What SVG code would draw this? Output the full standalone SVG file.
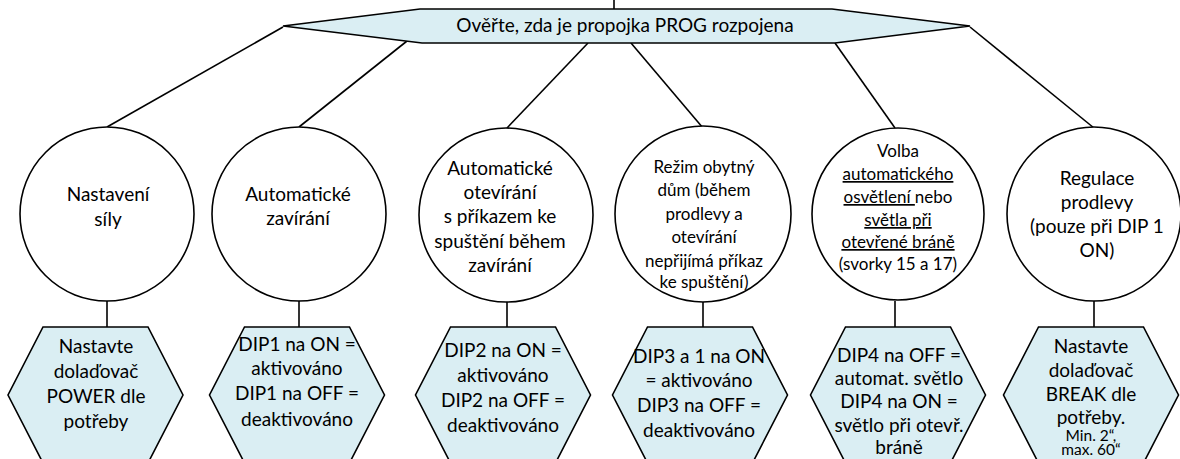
<svg xmlns="http://www.w3.org/2000/svg" width="1180" height="459" viewBox="0 0 1180 459">
<style>
.hex{fill:#DAEEF3;stroke:#000;stroke-width:1.6}
.cir{fill:#fff;stroke:#000;stroke-width:1.6}
.ln{stroke:#000;stroke-width:1.6;fill:none}
text{font-family:Lato,"Open Sans",sans-serif;font-size:19px;fill:#000;text-anchor:middle}
.s{font-size:17px}
.t{font-size:15.5px}
.u{text-decoration:underline}
</style>
<rect width="1180" height="459" fill="#fff"/>
<g id="connectors">
<line class="ln" x1="614" y1="0" x2="614" y2="9"/>
<line class="ln" x1="283" y1="27" x2="107" y2="127"/>
<line class="ln" x1="407" y1="41" x2="299" y2="127"/>
<line class="ln" x1="588" y1="43" x2="507" y2="128"/>
<line class="ln" x1="631" y1="43" x2="703" y2="128"/>
<line class="ln" x1="835" y1="43" x2="895" y2="128"/>
<line class="ln" x1="970" y1="27" x2="1094" y2="128"/>
<line class="ln" x1="107" y1="301" x2="107" y2="327"/>
<line class="ln" x1="299" y1="301" x2="299" y2="327"/>
<line class="ln" x1="507" y1="302" x2="507" y2="327"/>
<line class="ln" x1="703" y1="301" x2="703" y2="327"/>
<line class="ln" x1="895" y1="301" x2="895" y2="327"/>
<line class="ln" x1="1094" y1="301" x2="1094" y2="327"/>
</g>
<g id="top">
<polygon class="hex" points="283,26 420,9 832,9 970,26 835,43 422,43"/>
<text x="625" y="32">Ověřte, zda je propojka PROG rozpojena</text>
</g>
<g id="c1">
<circle class="cir" cx="107" cy="214" r="87"/>
<text x="108"><tspan x="108" y="201">Nastavení</tspan><tspan x="108" y="226">síly</tspan></text>
</g>
<g id="c2">
<circle class="cir" cx="299" cy="214" r="87"/>
<text x="298"><tspan x="298" y="201">Automatické</tspan><tspan x="298" y="225">zavírání</tspan></text>
</g>
<g id="c3">
<circle class="cir" cx="506" cy="215" r="87"/>
<text x="500"><tspan x="500" y="175">Automatické</tspan><tspan x="500" y="199">otevírání</tspan><tspan x="500" y="223">s příkazem ke</tspan><tspan x="500" y="248">spuštění během</tspan><tspan x="500" y="272">zavírání</tspan></text>
</g>
<g id="c4">
<circle class="cir" cx="703" cy="214" r="88"/>
<text class="s" x="704"><tspan x="704" y="173">Režim obytný</tspan><tspan x="704" y="196">dům (během</tspan><tspan x="704" y="220">prodlevy a</tspan><tspan x="704" y="243">otevírání</tspan><tspan x="704" y="267">nepřijímá příkaz</tspan><tspan x="704" y="288">ke spuštění)</tspan></text>
</g>
<g id="c5">
<circle class="cir" cx="898" cy="214" r="86"/>
<text class="s" x="898"><tspan x="898" y="157">Volba</tspan><tspan class="u" x="898" y="180">automatického</tspan><tspan x="898" y="203"><tspan class="u">osvětlení </tspan>nebo</tspan><tspan class="u" x="898" y="226">světla při</tspan><tspan class="u" x="898" y="248">otevřené bráně</tspan><tspan x="898" y="270">(svorky 15 a 17)</tspan></text>
</g>
<g id="c6">
<circle class="cir" cx="1094" cy="214" r="87"/>
<text x="1097"><tspan x="1097" y="185">Regulace</tspan><tspan x="1097" y="209">prodlevy</tspan><tspan x="1097" y="233">(pouze při DIP 1</tspan><tspan x="1097" y="257">ON)</tspan></text>
</g>
<g id="h1">
<polygon class="hex" points="43,327 148,327 183,395 148,463 43,463 8,395"/>
<text x="96"><tspan x="96" y="353">Nastavte</tspan><tspan x="96" y="378">dolaďovač</tspan><tspan x="96" y="403">POWER dle</tspan><tspan x="96" y="428">potřeby</tspan></text>
</g>
<g id="h2">
<polygon class="hex" points="244.5,327 349.5,327 384.5,395 349.5,463 244.5,463 209.5,395"/>
<text x="297"><tspan x="297" y="351">DIP1 na ON =</tspan><tspan x="297" y="375">aktivováno</tspan><tspan x="297" y="400">DIP1 na OFF =</tspan><tspan x="297" y="426">deaktivováno</tspan></text>
</g>
<g id="h3">
<polygon class="hex" points="450.5,327 555.5,327 590.5,395 555.5,463 450.5,463 415.5,395"/>
<text x="503"><tspan x="503" y="357">DIP2 na ON =</tspan><tspan x="503" y="382">aktivováno</tspan><tspan x="503" y="407">DIP2 na OFF =</tspan><tspan x="503" y="432">deaktivováno</tspan></text>
</g>
<g id="h4">
<polygon class="hex" points="647.5,327 752.5,327 787.5,395 752.5,463 647.5,463 612.5,395"/>
<text x="699"><tspan x="699" y="363">DIP3 a 1 na ON</tspan><tspan x="699" y="387">= aktivováno</tspan><tspan x="699" y="412">DIP3 na OFF =</tspan><tspan x="699" y="437">deaktivováno</tspan></text>
</g>
<g id="h5">
<polygon class="hex" points="845.5,327 950.5,327 985.5,395 950.5,463 845.5,463 810.5,395"/>
<text x="899"><tspan x="899" y="362">DIP4 na OFF =</tspan><tspan x="899" y="385">automat. světlo</tspan><tspan x="899" y="408">DIP4 na ON =</tspan><tspan x="899" y="432">světlo při otevř.</tspan><tspan x="899" y="454">bráně</tspan></text>
</g>
<g id="h6">
<polygon class="hex" points="1038.5,327 1143.5,327 1178.5,395 1143.5,463 1038.5,463 1003.5,395"/>
<text x="1091"><tspan x="1091" y="353">Nastavte</tspan><tspan x="1091" y="377">dolaďovač</tspan><tspan x="1091" y="401">BREAK dle</tspan><tspan x="1091" y="424">potřeby.</tspan><tspan class="t" x="1091" y="441">Min. 2“,</tspan><tspan class="t" x="1091" y="455">max. 60“</tspan></text>
</g>
</svg>
